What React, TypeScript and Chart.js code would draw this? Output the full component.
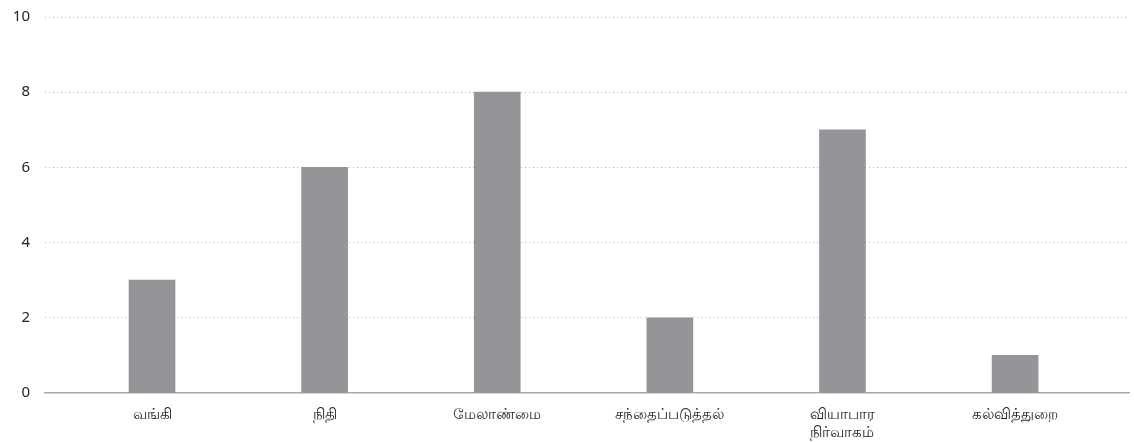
import React, { useEffect, useRef } from "react";
import { Chart, registerables } from "chart.js";

Chart.register(...registerables);

const categories: (string | string[])[] = [
  "வங்கி",
  "நிதி",
  "மேலாண்மை",
  "சந்தைப்படுத்தல்",
  ["வியாபார", "நிர்வாகம்"],
  "கல்வித்துறை",
];
const values = [3, 6, 8, 2, 7, 1];
const yTicks = [0, 2, 4, 6, 8, 10];

export default function App() {
  const ref = useRef<HTMLCanvasElement | null>(null);
  useEffect(() => {
    if (!ref.current) return;
    const chart = new Chart(ref.current, {
      type: "bar",
      data: {
        datasets: [
          {
            data: values.map((v, i) => ({ x: i, y: v })),
            backgroundColor: "#939598",
            barThickness: 46,
          },
        ],
      },
      options: {
        animation: false,
        responsive: true,
        maintainAspectRatio: false,
        layout: { padding: { top: 17, right: 5, left: 0, bottom: 0 } },
        plugins: { legend: { display: false }, tooltip: { enabled: false } },
        scales: {
          x: {
            type: "linear",
            offset: false,
            min: -0.62,
            max: 5.66,
            afterBuildTicks: (axis: any) => {
              axis.ticks = categories.map((_, i) => ({ value: i }));
            },
            afterFit: (axis: any) => {
              axis.height = 49;
              axis.paddingLeft = 0;
              axis.paddingRight = 0;
            },
            grid: { display: false, offset: false },
            border: { display: true, color: "#a8a8a8", width: 1.5 },
            ticks: {
              autoSkip: false,
              maxRotation: 0,
              padding: 5,
              color: "#222",
              font: { size: 15, family: "'Noto Sans', sans-serif" },
              callback: (v: any) => categories[Math.round(Number(v))] as any,
            },
          },
          y: {
            min: 0,
            max: 10,
            afterBuildTicks: (axis: any) => {
              axis.ticks = yTicks.map((v) => ({ value: v }));
            },
            afterFit: (axis: any) => {
              axis.width = 45;
              axis.paddingTop = 0;
              axis.paddingBottom = 0;
            },
            grid: {
              drawTicks: false,
              color: (ctx: any) => (ctx.tick && ctx.tick.value === 0 ? "rgba(0,0,0,0)" : "#b4b4b4"),
              lineWidth: 1,
            },
            border: { display: false, dash: [1, 3] },
            ticks: {
              padding: 15,
              color: "#222",
              font: { size: 15, family: "'Noto Sans', sans-serif" },
            },
          },
        },
      },
    });
    return () => chart.destroy();
  }, []);
  return (
    <div style={{ position: "absolute", left: 0, top: 0, width: 1134, height: 442 }}>
      <canvas ref={ref} />
    </div>
  );
}
